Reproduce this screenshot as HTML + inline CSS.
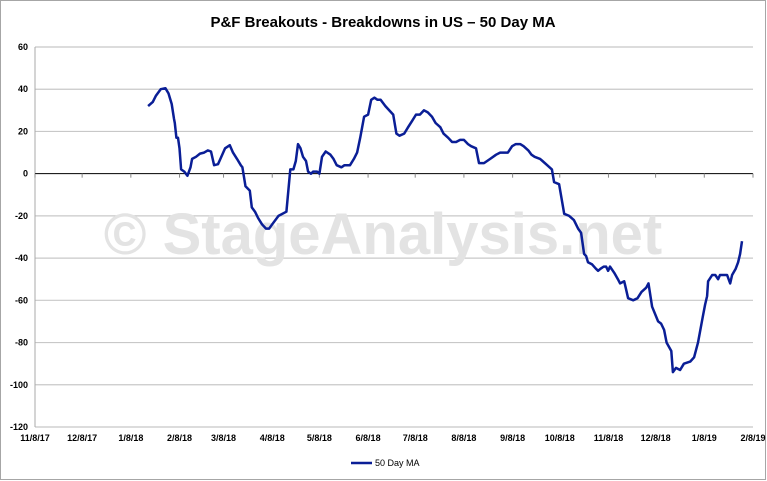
<!DOCTYPE html>
<html><head><meta charset="utf-8"><style>
html,body{margin:0;padding:0;background:#fff;}
svg{display:block;font-family:"Liberation Sans",sans-serif;}
</style></head><body>
<svg id="chart" width="767" height="481">
<rect x="0.5" y="0.5" width="765" height="479" fill="#fff" stroke="#a6a6a6"/>
<text x="383" y="27" text-anchor="middle" font-size="15" font-weight="bold" fill="#000">P&amp;F Breakouts - Breakdowns in US – 50 Day MA</text>
<g id="grid"></g>
<text x="383" y="254" text-anchor="middle" font-size="58" font-weight="bold" fill="#e3e3e3">© StageAnalysis.net</text>
<g id="axes"></g>
<g id="series"></g>
<g>
<line x1="351" y1="463" x2="372" y2="463" stroke="#0a1e96" stroke-width="2.5"/>
<text x="375" y="466" font-size="9" fill="#000">50 Day MA</text>
</g>
</svg>
<script>
const yTicks=[60,40,20,0,-20,-40,-60,-80,-100,-120];
const xTickLabels=["11/8/17","12/8/17","1/8/18","2/8/18","3/8/18","4/8/18","5/8/18","6/8/18","7/8/18","8/8/18","9/8/18","10/8/18","11/8/18","12/8/18","1/8/19","2/8/19"];
const xTickDays=[0,30,61,92,120,151,181,212,242,273,304,334,365,395,426,457];
const days=[72,75,77,80,83,85,87,88.5,89,90,91,92,93,95,97,99,100,102.5,105,107.6,110,112,114,116.5,118,121,124,126,128.6,131,132,134,136.7,138,140,142,144.5,147,149,151,155,160,162.5,164.5,166,167.4,169,170.6,172.5,173.8,175.7,177,179.5,181,182.7,185,188,190,192,195,197,200.5,203,205,207,209.5,212,214,216,218,220,223,228,230,232,235,237.5,240,242.5,245,247.6,250,252.7,255,258,260,263,265.5,268,270.6,273,275.6,277.6,280.7,282.6,285.8,289.7,293.5,296,299,301,303.7,306,308.8,311,314,316,318,321.5,323,326,329,330.4,333.6,336.8,340,343,345.7,347.6,349.5,350.8,352,354.6,357,358.4,360,362,363.5,364.8,366,368.7,371,372.4,375,376,377.5,380.8,383.5,386,389,390.5,392.8,396.6,398.5,400.4,402,405,406,408,410.6,413,417,419.5,422,425,426.5,427.8,428.4,431,433,434.8,436,438.6,440.5,442,442.5,443.7,446,447.5,448.8,450];
const values=[32,34,37,40,40.5,38,33,26,24,17,17,12,2,1,-1,3,7,8,9.5,10,11,10.5,4,4.5,7,12,13.5,10,7,4,3,-6,-8,-16,-18,-21,-24,-26,-26,-24,-20,-18,2,2,6,14,12,8,6,1,0,1,1,0,8,10.5,9,7,4,3,4,4,7,10,17,27,28,35,36,35,35,32,28,19,18,19,22,25,28,28,30,29,27,24,22,19,17,15,15,16,16,14,13,12,5,5,7,9,10,10,10,13,14,14,13,11,9,8,7,6,4,2,-4,-5,-19,-20,-22,-26,-28,-38,-39,-42,-43,-45,-46,-45,-44,-44,-46,-44,-47,-50,-52,-51,-54,-59,-60,-59,-56,-54,-52,-63,-70,-71,-74,-80,-84,-94,-92,-93,-90,-89,-87,-80,-68,-62,-58,-51,-48,-48,-50,-48,-48,-48,-51,-52,-48,-45,-42,-38,-32];
const NS='http://www.w3.org/2000/svg';
const X0=35,X1=753,Y0=47,Y1=427;
function xs(d){return X0+(d-0)/(457-0)*(X1-X0);}
function ys(v){return Y0+(60-v)/(180)*(Y1-Y0);}
const grid=document.getElementById('grid'),axes=document.getElementById('axes'),series=document.getElementById('series');
yTicks.forEach(v=>{
  const y=ys(v);
  if(v!==0){const l=document.createElementNS(NS,'line');
  l.setAttribute('x1',X0);l.setAttribute('x2',X1);l.setAttribute('y1',y);l.setAttribute('y2',y);
  l.setAttribute('stroke','#c8c8c8');l.setAttribute('stroke-width','1.2');
  
  
  grid.appendChild(l);}
  const t=document.createElementNS(NS,'text');
  t.setAttribute('x',28);t.setAttribute('y',y+3);t.setAttribute('text-anchor','end');
  t.setAttribute('font-size','9');t.setAttribute('font-weight','bold');t.textContent=v;
  
  
  axes.appendChild(t);
});
const ya=document.createElementNS(NS,'line');
ya.setAttribute('x1',X0);ya.setAttribute('x2',X0);ya.setAttribute('y1',Y0);ya.setAttribute('y2',Y1);ya.setAttribute('stroke','#aaa');


axes.appendChild(ya);
const zy=ys(0);
const za=document.createElementNS(NS,'line');
za.setAttribute('x1',X0);za.setAttribute('x2',X1);za.setAttribute('y1',zy);za.setAttribute('y2',zy);za.setAttribute('stroke','#000');


axes.appendChild(za);
xTickDays.forEach((d,i)=>{
  const x=xs(d);
  const tk=document.createElementNS(NS,'line');
  tk.setAttribute('x1',x);tk.setAttribute('x2',x);tk.setAttribute('y1',zy);tk.setAttribute('y2',zy+4);tk.setAttribute('stroke','#888');
  
  
  axes.appendChild(tk);
  const t=document.createElementNS(NS,'text');
  t.setAttribute('x',x);t.setAttribute('y',441);t.setAttribute('text-anchor','middle');
  t.setAttribute('font-size','9');t.setAttribute('font-weight','bold');t.textContent=xTickLabels[i];
  
  
  axes.appendChild(t);
});
const p=document.createElementNS(NS,'polyline');
p.setAttribute('points',days.map((d,i)=>xs(d).toFixed(1)+','+ys(values[i]).toFixed(1)).join(' '));
p.setAttribute('fill','none');p.setAttribute('stroke','#0a1e96');p.setAttribute('stroke-width','2.5');p.setAttribute('stroke-linejoin','round');


series.appendChild(p);
</script>
</body></html>
